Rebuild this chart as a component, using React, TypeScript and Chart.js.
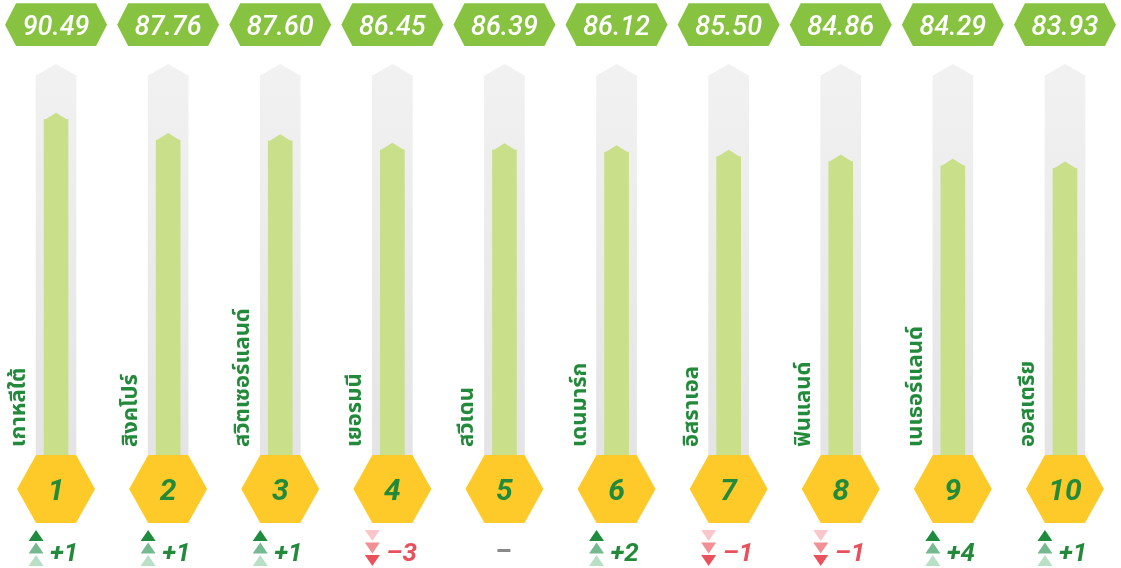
import React, { useEffect, useRef } from 'react';
import { Chart, registerables } from 'chart.js';

Chart.register(...registerables);

// ---- data ----
const countries = [
  'เกาหลีใต้',
  'สิงคโปร์',
  'สวิตเซอร์แลนด์',
  'เยอรมนี',
  'สวีเดน',
  'เดนมาร์ก',
  'อิสราเอล',
  'ฟินแลนด์',
  'เนเธอร์แลนด์',
  'ออสเตรีย',
];
const scores = [90.49, 87.76, 87.6, 86.45, 86.39, 86.12, 85.5, 84.86, 84.29, 83.93];
const scoreLabels = ['90.49', '87.76', '87.60', '86.45', '86.39', '86.12', '85.50', '84.86', '84.29', '83.93'];
const ranks = [1, 2, 3, 4, 5, 6, 7, 8, 9, 10];
const rankChanges = [1, 1, 1, -3, 0, 2, -1, -1, 4, 1];
const trackValues = [96.5, 96.5, 96.5, 96.5, 96.5, 96.5, 96.5, 96.5, 96.5, 96.5];
const Y_MIN = 45.4;
const Y_MAX = 96.5;

// ---- styles ----
const GREEN_BAR = '#c9df8a';
const BADGE_GREEN = '#87c341';
const HEX_YELLOW = '#fdca2a';
const DARK_GREEN = '#238a3b';
const RED = '#e8505b';
const UP_COLORS = ['#1e8b3f', '#74b98f', '#badfc7'];
const DOWN_COLORS = ['#f9c7ca', '#f28f95', '#e9525d'];
const NUM_FONT = 'Roboto, "DejaVu Sans", sans-serif';
const THAI_FONT = '"Noto Sans Thai", "Noto Sans", "DejaVu Sans", sans-serif';

function tip(ctx: CanvasRenderingContext2D, x: number, y: number, half: number, h: number, color: string) {
  ctx.beginPath();
  ctx.moveTo(x - half, y + 0.5);
  ctx.lineTo(x, y - h);
  ctx.lineTo(x + half, y + 0.5);
  ctx.closePath();
  ctx.fillStyle = color;
  ctx.fill();
}

function tri(ctx: CanvasRenderingContext2D, cx: number, top: number, w: number, h: number, up: boolean, color: string) {
  ctx.beginPath();
  if (up) {
    ctx.moveTo(cx, top);
    ctx.lineTo(cx + w / 2, top + h);
    ctx.lineTo(cx - w / 2, top + h);
  } else {
    ctx.moveTo(cx - w / 2, top);
    ctx.lineTo(cx + w / 2, top);
    ctx.lineTo(cx, top + h);
  }
  ctx.closePath();
  ctx.fillStyle = color;
  ctx.fill();
}

const infographicPlugin = {
  id: 'infographic',
  afterDatasetsDraw(chart: any) {
    const ctx: CanvasRenderingContext2D = chart.ctx;
    const area = chart.chartArea;
    const trackMeta = chart.getDatasetMeta(0);
    const scoreMeta = chart.getDatasetMeta(1);
    ctx.save();

    // pointed tops
    trackMeta.data.forEach((bar: any) => {
      const p = bar.getProps(['x', 'y', 'width'], true);
      tip(ctx, p.x, p.y, p.width / 2, 11, '#f1f1f1');
    });
    scoreMeta.data.forEach((bar: any) => {
      const p = bar.getProps(['x', 'y', 'width'], true);
      tip(ctx, p.x, p.y, p.width / 2, 7, GREEN_BAR);
    });

    trackMeta.data.forEach((bar: any, i: number) => {
      const p = bar.getProps(['x', 'width'], true);
      const cx = p.x;
      const hw = p.width / 2;

      // rank hexagon
      const top = area.bottom;
      const bottom = top + 68;
      const mid = (top + bottom) / 2;
      ctx.beginPath();
      ctx.moveTo(cx - hw, top);
      ctx.lineTo(cx + hw, top);
      ctx.lineTo(cx + 39, mid);
      ctx.lineTo(cx + hw, bottom);
      ctx.lineTo(cx - hw, bottom);
      ctx.lineTo(cx - 39, mid);
      ctx.closePath();
      ctx.fillStyle = HEX_YELLOW;
      ctx.fill();

      ctx.fillStyle = DARK_GREEN;
      ctx.font = `italic bold 30px ${NUM_FONT}`;
      ctx.textAlign = 'center';
      ctx.textBaseline = 'alphabetic';
      ctx.fillText(String(ranks[i]), cx, mid + 11);

      // score badge
      const bt = 3.3;
      const bb = 46;
      const bm = (bt + bb) / 2;
      ctx.beginPath();
      ctx.moveTo(cx - 51, bm);
      ctx.lineTo(cx - 40, bt);
      ctx.lineTo(cx + 40, bt);
      ctx.lineTo(cx + 51, bm);
      ctx.lineTo(cx + 40, bb);
      ctx.lineTo(cx - 40, bb);
      ctx.closePath();
      ctx.fillStyle = BADGE_GREEN;
      ctx.fill();
      ctx.fillStyle = '#ffffff';
      ctx.font = `italic 500 27px ${NUM_FONT}`;
      ctx.textAlign = 'center';
      ctx.fillText(scoreLabels[i], cx, 35);

      // country label, rotated
      ctx.save();
      ctx.translate(cx - 31, area.bottom - 8);
      ctx.rotate(-Math.PI / 2);
      ctx.fillStyle = DARK_GREEN;
      ctx.font = `bold 22px ${THAI_FONT}`;
      ctx.textAlign = 'left';
      ctx.textBaseline = 'alphabetic';
      ctx.fillText(countries[i], 0, 0);
      ctx.restore();

      // rank change
      const ch = rankChanges[i];
      const tx = cx - 20;
      if (ch > 0) {
        tri(ctx, tx, 530, 15, 11, true, UP_COLORS[0]);
        tri(ctx, tx, 542.5, 15, 11, true, UP_COLORS[1]);
        tri(ctx, tx, 555, 15, 11, true, UP_COLORS[2]);
        ctx.fillStyle = DARK_GREEN;
        ctx.font = `italic bold 26px ${NUM_FONT}`;
        ctx.textAlign = 'left';
        ctx.fillText('+' + ch, cx - 6, 561);
      } else if (ch < 0) {
        tri(ctx, tx, 530, 15, 11, false, DOWN_COLORS[0]);
        tri(ctx, tx, 542.5, 15, 11, false, DOWN_COLORS[1]);
        tri(ctx, tx, 555, 15, 11, false, DOWN_COLORS[2]);
        ctx.fillStyle = RED;
        ctx.font = `italic bold 26px ${NUM_FONT}`;
        ctx.textAlign = 'left';
        ctx.fillText('–' + Math.abs(ch), cx - 6, 561);
      } else {
        ctx.fillStyle = '#8a8a8a';
        ctx.fillRect(cx - 7, 549, 13, 3);
      }
    });

    ctx.restore();
  },
};

export default function App() {
  const canvasRef = useRef<HTMLCanvasElement | null>(null);

  useEffect(() => {
    document.body.style.margin = '0';
    const canvas = canvasRef.current;
    if (!canvas) return;
    const chart = new Chart(canvas, {
      type: 'bar',
      data: {
        labels: countries,
        datasets: [
          {
            label: 'track',
            data: trackValues,
            barThickness: 40,
            grouped: false,
            borderWidth: 0,
            backgroundColor: (context: any) => {
              const { chart: c } = context;
              const a = c.chartArea;
              if (!a) return '#ebebed';
              const g = c.ctx.createLinearGradient(0, a.top, 0, a.bottom);
              g.addColorStop(0, '#f1f1f1');
              g.addColorStop(1, '#e4e4e6');
              return g;
            },
            order: 2,
          } as any,
          {
            label: 'score',
            data: scores,
            barThickness: 24,
            grouped: false,
            borderWidth: 0,
            backgroundColor: GREEN_BAR,
            order: 1,
          } as any,
        ],
      },
      options: {
        animation: false,
        responsive: false,
        maintainAspectRatio: false,
        layout: { padding: { top: 75, bottom: 113, left: 0, right: 0 } },
        plugins: {
          legend: { display: false },
          tooltip: { enabled: false },
        },
        scales: {
          x: { display: false },
          y: { display: false, min: Y_MIN, max: Y_MAX },
        },
      },
      plugins: [infographicPlugin],
    });
    return () => chart.destroy();
  }, []);

  return (
    <div style={{ width: 1121, height: 568, position: 'relative' }}>
      <canvas ref={canvasRef} width={1121} height={568} style={{ display: 'block' }} />
    </div>
  );
}
